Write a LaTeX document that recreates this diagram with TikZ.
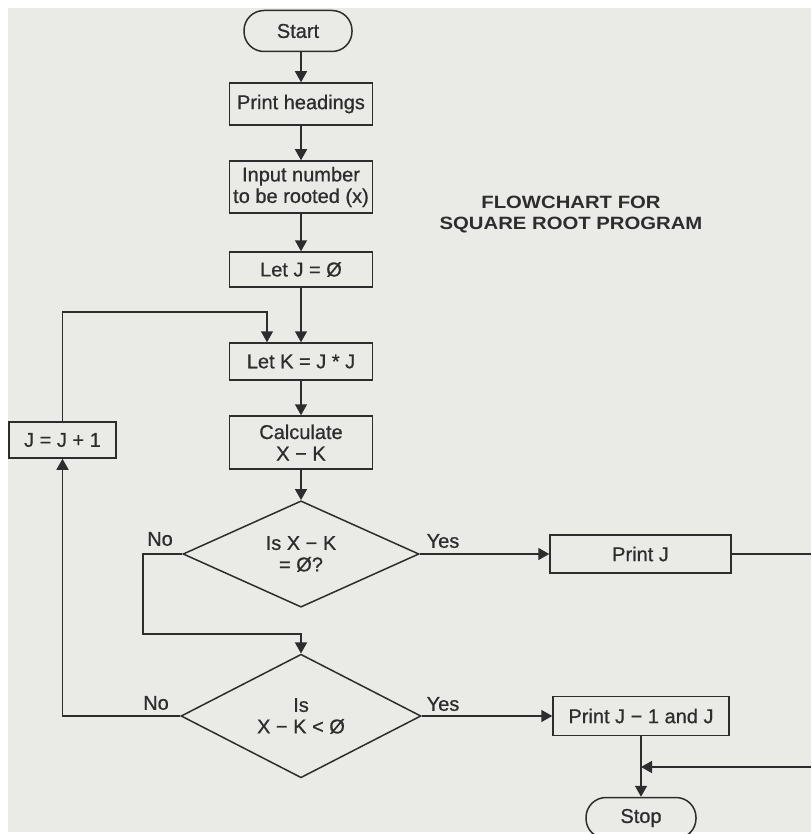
\documentclass[tikz,border=0pt]{standalone}
\usepackage{fontspec}
\setmainfont{Liberation Sans}[FakeBold=0.7]
\newfontfamily\titlefont{Liberation Sans}[FakeStretch=1.14]
\usetikzlibrary{arrows.meta,shapes.geometric}
\definecolor{paper}{RGB}{234,234,231}
\definecolor{ink}{RGB}{45,45,45}
\begin{document}
\begin{tikzpicture}[x=1pt,y=-1pt,
  every node/.style={text=ink, font=\fontsize{20}{21.5}\selectfont},
  box/.style={draw=ink, line width=1.5pt, rectangle, inner sep=0pt, align=center},
  term/.style={draw=ink, line width=1.5pt, rectangle, rounded corners=20pt, inner sep=0pt, minimum width=108pt, minimum height=41pt},
  dec/.style={draw=ink, line width=1.5pt, diamond, inner sep=0pt, align=center},
  conn/.style={draw=ink, line width=1.5pt},
  arr/.style={conn, -{Triangle[width=12pt,length=11pt]}},
  lbl/.style={inner sep=0pt}]
\useasboundingbox (0,0) rectangle (811,834);
\clip (0,0) rectangle (811,834);
\fill[white] (0,0) rectangle (811,834);
\fill[paper] (8,8) rectangle (811,832);

% title
\node[font=\titlefont\bfseries\fontsize{17.8}{21}\selectfont, align=center] (title) at (571,215) {FLOWCHART FOR\\SQUARE ROOT PROGRAM};

% main column
\node[term] (start) at (298,31) {Start};
\node[box, minimum width=143pt, minimum height=42pt] (ph) at (301,104) {Print headings};
\node[box, minimum width=143pt, minimum height=52pt] (inp) at (301,187) {Input number\\to be rooted (x)};
\node[box, minimum width=143pt, minimum height=35pt] (letj) at (301,269.5) {Let J = Ø};
\node[box, minimum width=143pt, minimum height=37pt] (letk) at (301,361.5) {Let K = J * J};
\node[box, minimum width=143pt, minimum height=53pt] (calc) at (301,442.5) {Calculate\\X − K};
\node[dec, minimum width=236pt, minimum height=106pt] (d1) at (301,554) {Is X − K\\= Ø?};
\node[dec, minimum width=240pt, minimum height=105pt] (d2) at (301,716) {Is\\X − K < Ø};

% left loop box
\node[box, minimum width=107pt, minimum height=36pt] (jj) at (62.5,440) {J = J + 1};

% right column
\node[box, minimum width=181pt, minimum height=38pt] (pj) at (640.5,554) {Print J};
\node[box, minimum width=176pt, minimum height=39pt] (pj1) at (641,716) {Print J − 1 and J};
\node[term, minimum width=110pt] (stop) at (641,818) {Stop};

% labels
\node[lbl] (no1) at (160,539) {No};
\node[lbl] (no2) at (156,703) {No};
\node[lbl] (yes1) at (443,541) {Yes};
\node[lbl] (yes2) at (443,704) {Yes};

% connectors
\draw[arr] (ph.north |- start.south) -- (ph.north);
\draw[arr] (ph) -- (inp);
\draw[arr] (inp) -- (letj);
\draw[arr] (letj) -- (letk);
\draw[arr] (letk) -- (calc);
\draw[arr] (calc) -- (d1);
\draw[arr] (d1.east) -- (pj.west);
\coordinate (nb) at (143,634);
\draw[arr] (d1.west) -| (nb) -| (d2.north);
\draw[arr] (d2.east) -- (pj1.west);
\draw[arr] (d2.west) -| (jj.south);
\coordinate (lp) at (267,312);
\draw[arr] (jj.north) |- (lp) -- (lp |- letk.north);
\coordinate (rOut) at (811,554);
\coordinate (rIn) at (811,767);
\draw[conn] (pj.east) -- (rOut);
\draw[arr] (rIn) -- (rIn -| pj1.south);
\draw[arr] (pj1.south) -- (stop.north);
\end{tikzpicture}
\end{document}
